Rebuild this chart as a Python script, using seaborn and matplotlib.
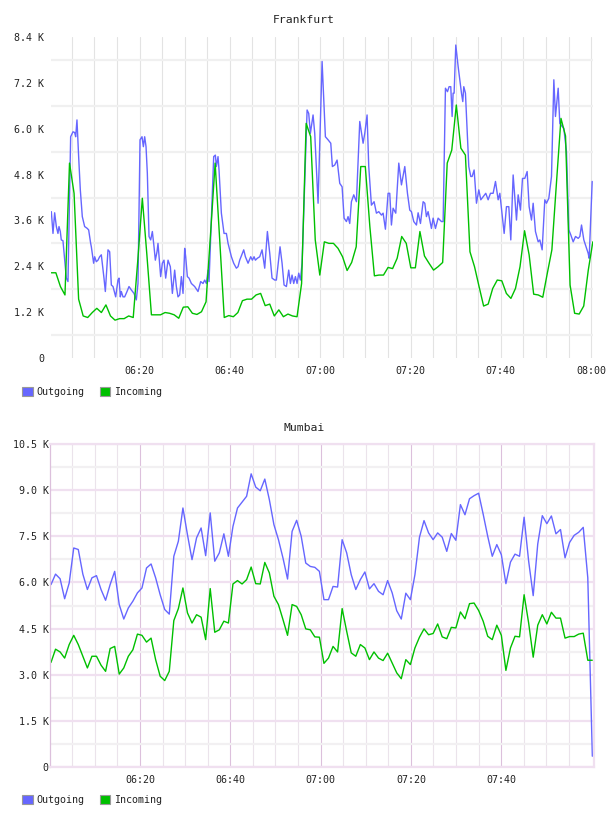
import numpy as np
import pandas as pd
import matplotlib
matplotlib.use('Agg')
import matplotlib.pyplot as plt
from matplotlib.patches import Patch
import seaborn as sns

#== data (minutes after 06:00, values in K)
series_names = ['Outgoing', 'Incoming']
series_colors = ['#6666ff', '#00c000']

x_tick_min = [20, 40, 60, 80, 100, 120]
x_tick_labels = ['06:20', '06:40', '07:00', '07:20', '07:40', '08:00']

# Frankfurt outgoing, irregular samples
fra_out_min = [0.47, 0.84, 1.21, 1.58, 1.94, 2.17, 2.46, 2.68, 3.05, 3.79,
               4.16, 4.75, 5.27, 5.64, 5.86, 6.15, 6.52, 6.89, 7.33, 7.85,
               8.44, 8.74, 9.18, 9.33, 9.84, 10.07, 10.43, 10.80, 11.17, 11.54,
               12.13, 12.43, 13.02, 13.39, 13.76, 14.13, 14.72, 15.23, 15.46, 15.75,
               15.97, 16.34, 16.71, 17.23, 17.67, 18.19, 18.78, 19.29, 19.66, 20.11,
               20.55, 20.85, 21.14, 21.44, 21.73, 22.10, 22.47, 22.84, 23.21, 23.50,
               23.87, 24.09, 24.68, 25.05, 25.42, 25.79, 26.31, 26.82, 27.27, 27.78,
               28.15, 28.52, 28.89, 29.26, 29.63, 30.00, 30.22, 30.59, 30.96, 31.48,
               32.21, 32.95, 33.54, 34.06, 34.43, 34.80, 35.17, 35.39, 36.42, 36.79,
               37.01, 37.38, 37.60, 38.12, 38.71, 39.23, 39.60, 40.34, 40.85, 41.44,
               41.81, 42.18, 42.77, 43.07, 43.44, 44.03, 44.62, 44.99, 45.36, 45.65,
               46.09, 46.61, 47.13, 47.72, 48.31, 48.83, 49.34, 49.93, 50.30, 51.11,
               51.56, 52.00, 52.52, 53.03, 53.40, 53.77, 54.14, 54.51, 54.88, 55.25,
               55.62, 55.99, 57.10, 57.46, 57.83, 58.42, 58.79, 59.53, 60.42,
               61.15, 61.74, 62.34, 62.70, 63.22, 63.74, 64.33, 64.85, 65.29, 65.81,
               66.17, 66.54, 66.91, 67.43, 68.02, 68.76, 69.50, 69.87, 70.38, 70.75,
               71.34, 71.93, 72.45, 72.97, 73.56, 73.93, 74.44, 75.03, 75.40, 75.77,
               76.14, 76.73, 77.40, 77.99, 78.73, 79.32, 79.83, 80.20, 80.72, 81.31,
               81.68, 82.20, 82.79, 83.16, 83.52, 83.89, 84.63, 85.00, 85.52, 86.11,
               86.85, 87.22, 87.73, 88.18, 88.54, 88.91, 89.21, 89.43, 89.65, 90.02,
               90.54, 91.28, 91.57, 91.79, 92.16, 92.90, 93.34, 93.64, 94.08, 94.60,
               95.12, 95.56, 96.07, 96.66, 97.18, 97.70, 98.29, 98.81, 99.40, 99.77,
               100.73, 101.24, 101.76, 102.20, 102.72, 103.46, 103.83, 104.34, 104.79, 105.30,
               105.82, 106.26, 106.78, 107.15, 107.66, 108.26, 108.63, 109.14, 109.73, 110.10,
               110.62, 111.21, 111.73, 112.09, 112.69, 113.05, 113.57, 113.94, 114.53, 115.05,
               115.49, 116.01, 116.53, 117.12, 117.49, 117.86, 118.37, 118.96, 119.33, 119.55,
               120.22]
fra_out_k = [3.83, 3.26, 3.80, 3.44, 3.26, 3.44, 3.31, 3.09, 3.07, 2.09,
             2.00, 5.79, 5.92, 5.90, 5.79, 6.23, 5.27, 4.40, 3.70, 3.44,
             3.39, 3.35, 3.00, 2.91, 2.48, 2.65, 2.52, 2.56, 2.65, 2.70,
             2.09, 1.74, 2.83, 2.78, 1.91, 1.87, 1.60, 2.04, 2.09, 1.60,
             1.74, 1.60, 1.60, 1.74, 1.87, 1.78, 1.69, 1.52, 1.95, 5.71,
             5.79, 5.53, 5.79, 5.53, 4.83, 3.18, 3.09, 3.31, 2.91, 2.56,
             2.78, 3.00, 2.13, 2.48, 2.56, 2.09, 2.56, 2.39, 1.69, 2.30,
             1.87, 1.60, 1.65, 2.13, 1.69, 2.87, 2.65, 2.13, 2.09, 1.95,
             1.87, 1.74, 2.00, 1.95, 2.04, 1.95, 2.30, 2.00, 5.27, 5.31,
             5.01, 5.27, 4.92, 3.79, 3.26, 3.26, 3.00, 2.65, 2.48, 2.35,
             2.39, 2.56, 2.74, 2.83, 2.65, 2.48, 2.65, 2.56, 2.65, 2.56,
             2.61, 2.65, 2.83, 2.35, 3.31, 2.74, 2.09, 2.04, 2.04, 2.91,
             2.48, 1.91, 1.87, 2.30, 1.95, 2.17, 1.95, 2.13, 1.95, 2.22,
             2.04, 2.48, 6.49, 6.40, 5.88, 6.36, 5.88, 4.05, 7.76,
             5.79, 5.71, 5.62, 5.01, 5.05, 5.18, 4.57, 4.48, 3.66, 3.57,
             3.70, 3.52, 4.09, 4.27, 4.09, 6.19, 5.62, 5.88, 6.36, 5.01,
             4.00, 4.09, 3.79, 3.83, 3.74, 3.79, 3.37, 4.31, 4.31, 3.48,
             3.92, 3.79, 5.10, 4.53, 5.01, 4.31, 3.87, 3.83, 3.57, 3.48,
             3.80, 3.52, 4.09, 4.05, 3.70, 3.83, 3.39, 3.66, 3.39, 3.66,
             3.57, 3.57, 7.06, 6.97, 7.10, 7.10, 6.32, 6.93, 6.93, 8.19,
             7.63, 6.93, 6.71, 7.10, 6.93, 5.01, 4.75, 4.75, 4.92, 4.05,
             4.40, 4.14, 4.22, 4.31, 4.14, 4.31, 4.31, 4.62, 4.14, 4.31,
             3.26, 3.96, 3.96, 3.09, 4.79, 3.61, 4.27, 3.87, 4.70, 4.70,
             4.88, 3.96, 3.61, 4.05, 3.31, 3.04, 3.09, 2.83, 4.14, 4.05,
             4.18, 4.75, 7.28, 6.32, 7.06, 6.14, 6.06, 6.01, 5.40, 3.35,
             3.22, 3.04, 3.18, 3.13, 3.18, 3.48, 3.09, 2.87, 2.74, 2.61,
             4.62]

# Frankfurt incoming, one sample roughly every minute
fra_in_start, fra_in_step = 0.47, 1.0075
fra_in_k = [2.23, 2.23, 1.87, 1.65, 5.10, 4.31, 1.54, 1.10, 1.06, 1.19,
            1.30, 1.19, 1.39, 1.10, 0.99, 1.03, 1.03, 1.10, 1.06, 2.55,
            4.18, 2.70, 1.13, 1.13, 1.13, 1.19, 1.17, 1.13, 1.04, 1.33,
            1.34, 1.17, 1.14, 1.21, 1.47, 3.26, 5.10, 3.10, 1.06, 1.11,
            1.08, 1.19, 1.50, 1.54, 1.54, 1.65, 1.69, 1.37, 1.41, 1.10,
            1.26, 1.08, 1.15, 1.10, 1.08, 1.95, 6.14, 5.79, 3.09, 2.17,
            3.04, 3.00, 3.00, 2.87, 2.65, 2.29, 2.50, 2.91, 5.01, 5.01,
            3.44, 2.15, 2.17, 2.17, 2.37, 2.34, 2.61, 3.18, 3.00, 2.36,
            2.36, 3.31, 2.67, 2.48, 2.30, 2.39, 2.50, 5.10, 5.44, 6.62,
            5.49, 5.31, 2.78, 2.39, 1.87, 1.36, 1.41, 1.82, 2.04, 2.02,
            1.69, 1.56, 1.82, 2.39, 3.33, 2.70, 1.67, 1.65, 1.59, 2.22,
            2.83, 4.57, 6.27, 5.81, 1.91, 1.17, 1.15, 1.36, 2.30, 3.04]

# Mumbai, one sample roughly every minute
mum_start, mum_step = 0.29, 1.0075
mum_out_k = [5.93, 6.27, 6.12, 5.47, 5.98, 7.12, 7.07, 6.27, 5.77, 6.15,
             6.22, 5.77, 5.42, 5.93, 6.36, 5.28, 4.81, 5.17, 5.39, 5.66,
             5.82, 6.47, 6.60, 6.15, 5.60, 5.12, 4.97, 6.85, 7.34, 8.42,
             7.55, 6.74, 7.45, 7.77, 6.87, 8.26, 6.69, 6.96, 7.58, 6.85,
             7.82, 8.42, 8.61, 8.80, 9.53, 9.10, 8.98, 9.36, 8.69, 7.88,
             7.39, 6.79, 6.11, 7.66, 8.02, 7.50, 6.63, 6.52, 6.49, 6.36,
             5.44, 5.44, 5.87, 5.85, 7.39, 6.96, 6.25, 5.77, 6.09, 6.34,
             5.79, 5.96, 5.71, 5.60, 6.06, 5.66, 5.08, 4.81, 5.65, 5.44,
             6.25, 7.47, 8.01, 7.61, 7.39, 7.61, 7.47, 7.01, 7.59, 7.37,
             8.53, 8.20, 8.72, 8.82, 8.90, 8.22, 7.50, 6.85, 7.23, 6.90,
             5.96, 6.66, 6.92, 6.85, 8.12, 6.69, 5.57, 7.25, 8.17, 7.91,
             8.16, 7.58, 7.72, 6.80, 7.30, 7.53, 7.63, 7.79, 6.15, 0.35]
mum_in_k = [3.40, 3.83, 3.74, 3.54, 3.98, 4.28, 3.98, 3.60, 3.22, 3.60,
            3.60, 3.31, 3.11, 3.85, 3.92, 3.02, 3.22, 3.60, 3.81, 4.32,
            4.28, 4.06, 4.19, 3.49, 2.95, 2.81, 3.11, 4.76, 5.15, 5.82,
            5.01, 4.68, 4.95, 4.87, 4.14, 5.80, 4.38, 4.46, 4.74, 4.68,
            5.95, 6.06, 5.95, 6.09, 6.50, 5.96, 5.95, 6.65, 6.31, 5.55,
            5.28, 4.79, 4.28, 5.28, 5.22, 4.95, 4.49, 4.46, 4.23, 4.22,
            3.37, 3.54, 3.92, 3.74, 5.15, 4.41, 3.71, 3.60, 3.98, 3.87,
            3.49, 3.74, 3.54, 3.46, 3.70, 3.38, 3.06, 2.87, 3.49, 3.33,
            3.87, 4.22, 4.49, 4.30, 4.34, 4.65, 4.23, 4.17, 4.54, 4.52,
            5.04, 4.82, 5.31, 5.33, 5.09, 4.74, 4.25, 4.14, 4.61, 4.28,
            3.14, 3.87, 4.25, 4.23, 5.60, 4.68, 3.57, 4.61, 4.95, 4.65,
            5.03, 4.84, 4.84, 4.19, 4.24, 4.24, 4.32, 4.35, 3.47, 3.47]


def long_frame(out_min, out_k, in_min, in_k):
    a = pd.DataFrame({'minute': out_min, 'kbps': out_k, 'series': 'Outgoing'})
    b = pd.DataFrame({'minute': in_min, 'kbps': in_k, 'series': 'Incoming'})
    return pd.concat([a, b], ignore_index=True)


fra_in_min = fra_in_start + fra_in_step * np.arange(len(fra_in_k))
mum_min = mum_start + mum_step * np.arange(len(mum_out_k))

df_fra = long_frame(fra_out_min, fra_out_k, fra_in_min, fra_in_k)
df_mum = long_frame(mum_min, mum_out_k, mum_min, mum_in_k)

sns.set_theme(style='white')
plt.rcParams['font.family'] = ['DejaVu Sans Mono', 'DejaVu Sans']
plt.rcParams['text.color'] = '#222222'

fig = plt.figure(figsize=(6.08, 8.16), dpi=100)
ax_top = fig.add_axes([51 / 608, 1 - 358 / 816, 542 / 608, 321 / 816])
ax_bot = fig.add_axes([50 / 608, 1 - 767 / 816, 544 / 608, 323 / 816])

palette = dict(zip(series_names, series_colors))


def k_fmt(v, pos):
    return '0' if abs(v) < 1e-9 else f'{v:.1f} K'


# Frankfurt
sns.lineplot(data=df_fra, x='minute', y='kbps', hue='series', hue_order=series_names,
             palette=palette, estimator=None, sort=False, legend=False, lw=1.0, ax=ax_top)
ax_top.set_xlim(0.4, 120.4)
ax_top.set_ylim(0, 8.4)
ax_top.set_xticks(x_tick_min)
ax_top.set_xticklabels(x_tick_labels)
ax_top.set_xticks(np.arange(5, 121, 5), minor=True)
ax_top.set_yticks(np.arange(0, 8.41, 1.2))
ax_top.set_yticks(np.arange(0.6, 8.4, 1.2), minor=True)
ax_top.yaxis.set_major_formatter(plt.FuncFormatter(k_fmt))
ax_top.grid(False)
ax_top.grid(axis='x', which='both', color='#e3e3e3', lw=0.8)
ax_top.grid(axis='y', which='minor', color='#f0f0f0', lw=1.6)
for s in ax_top.spines.values():
    s.set_visible(False)
ax_top.tick_params(axis='both', which='both', length=0, labelsize=7.2, colors='#222222')
ax_top.tick_params(axis='y', pad=5)
ax_top.tick_params(axis='x', pad=6)
ax_top.set_xlabel('')
ax_top.set_ylabel('')

# Mumbai
pink_v = '#dcc0dc'
pink_h = '#f0e0f0'
sns.lineplot(data=df_mum, x='minute', y='kbps', hue='series', hue_order=series_names,
             palette=palette, estimator=None, sort=False, legend=False, lw=1.0, ax=ax_bot)
ax_bot.set_xlim(0.07, 120.55)
ax_bot.set_ylim(0, 10.5)
ax_bot.set_xticks(x_tick_min[:-1])
ax_bot.set_xticklabels(x_tick_labels[:-1])
ax_bot.set_xticks(np.arange(5, 116, 5), minor=True)
ax_bot.set_yticks(np.arange(0, 10.51, 1.5))
ax_bot.set_yticks(np.arange(0.75, 10.5, 1.5), minor=True)
ax_bot.yaxis.set_major_formatter(plt.FuncFormatter(k_fmt))
ax_bot.grid(False)
ax_bot.grid(axis='x', which='minor', color='#ebe3eb', lw=0.8)
ax_bot.grid(axis='x', which='major', color=pink_v, lw=0.8)
ax_bot.grid(axis='y', which='minor', color='#f2f0f2', lw=1.6)
ax_bot.grid(axis='y', which='major', color=pink_h, lw=1.6)
for s in ax_bot.spines.values():
    s.set_visible(True)
    s.set_color(pink_h)
    s.set_linewidth(1.6)
ax_bot.spines['left'].set_color(pink_v)
ax_bot.spines['left'].set_linewidth(0.9)
ax_bot.tick_params(axis='both', which='both', length=0, labelsize=7.2, colors='#222222')
ax_bot.tick_params(axis='y', pad=1)
ax_bot.tick_params(axis='x', pad=6)
ax_bot.set_xlabel('')
ax_bot.set_ylabel('')

# titles centred on the figure
fig.text(0.5, 1 - 20 / 816, 'Frankfurt', ha='center', va='center', fontsize=8.2)
fig.text(0.5, 1 - 428 / 816, 'Mumbai', ha='center', va='center', fontsize=8.2)

# legends
handles = [Patch(facecolor=c, edgecolor='#999999', lw=0.8) for c in series_colors]
for y_px in (392, 800):
    fig.legend(handles, series_names, loc='center left',
               bbox_to_anchor=(22 / 608, 1 - y_px / 816), ncol=2, frameon=False,
               handlelength=1.05, handleheight=1.05, handletextpad=0.4,
               columnspacing=1.5, borderaxespad=0, borderpad=0, fontsize=7.2)

fig.savefig('out.png', dpi=100)
